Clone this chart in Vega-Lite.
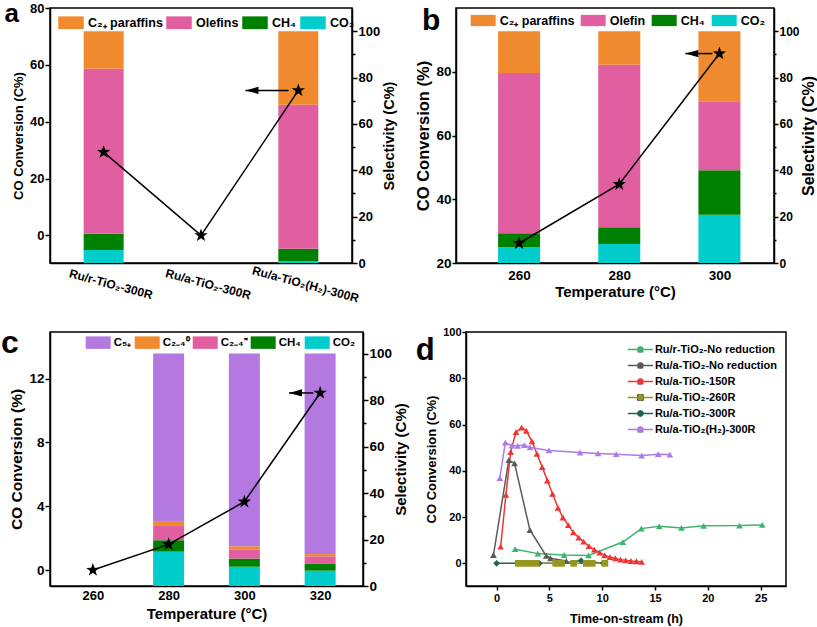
{
  "$schema": "https://vega.github.io/schema/vega-lite/v6.json",
  "background": "white",
  "padding": {"left": 0, "top": 0, "right": 0, "bottom": 0},
  "config": {
    "font": "Liberation Sans",
    "view": {"stroke": "black", "strokeWidth": 1.5},
    "axis": {"grid": false, "domainColor": "black", "domainWidth": 1.5, "tickColor": "black", "tickWidth": 1.5, "labelColor": "black", "titleColor": "black", "labelFontWeight": "bold", "titleFontWeight": "bold", "labelFont": "Liberation Sans", "titleFont": "Liberation Sans", "labelOverlap": false},
    "legend": {"labelFont": "Liberation Sans", "labelFontWeight": "bold", "labelColor": "black", "padding": 0},
    "title": {"font": "Liberation Sans", "fontWeight": "bold", "color": "black", "anchor": "start", "frame": "bounds"}
  },
  "datasets": {
    "aBars": [
      {"i": 0, "sample": "Ru/r-TiO₂-300R", "product": "CO₂", "k": 1, "sel": 5.6},
      {"i": 0, "sample": "Ru/r-TiO₂-300R", "product": "CH₄", "k": 2, "sel": 7.0},
      {"i": 0, "sample": "Ru/r-TiO₂-300R", "product": "Olefins", "k": 3, "sel": 71.2},
      {"i": 0, "sample": "Ru/r-TiO₂-300R", "product": "C₂₊ paraffins", "k": 4, "sel": 16.2},
      {"i": 2, "sample": "Ru/a-TiO₂(H₂)-300R", "product": "CO₂", "k": 1, "sel": 0.9},
      {"i": 2, "sample": "Ru/a-TiO₂(H₂)-300R", "product": "CH₄", "k": 2, "sel": 5.3},
      {"i": 2, "sample": "Ru/a-TiO₂(H₂)-300R", "product": "Olefins", "k": 3, "sel": 62.1},
      {"i": 2, "sample": "Ru/a-TiO₂(H₂)-300R", "product": "C₂₊ paraffins", "k": 4, "sel": 31.7}
    ],
    "aConv": [
      {"i": 0, "sample": "Ru/r-TiO₂-300R", "conv": 29.3},
      {"i": 1, "sample": "Ru/a-TiO₂-300R", "conv": 0.0},
      {"i": 2, "sample": "Ru/a-TiO₂(H₂)-300R", "conv": 51.0}
    ],
    "aArrow": [{"from": 1.9, "to": 1.457, "conv": 51.0}],
    "bBars": [
      {"T": 260, "product": "CO₂", "k": 1, "sel": 6.8},
      {"T": 260, "product": "CH₄", "k": 2, "sel": 6.0},
      {"T": 260, "product": "Olefin", "k": 3, "sel": 69.2},
      {"T": 260, "product": "C₂₊ paraffins", "k": 4, "sel": 18.0},
      {"T": 280, "product": "CO₂", "k": 1, "sel": 8.2},
      {"T": 280, "product": "CH₄", "k": 2, "sel": 7.2},
      {"T": 280, "product": "Olefin", "k": 3, "sel": 70.1},
      {"T": 280, "product": "C₂₊ paraffins", "k": 4, "sel": 14.5},
      {"T": 300, "product": "CO₂", "k": 1, "sel": 20.8},
      {"T": 300, "product": "CH₄", "k": 2, "sel": 19.2},
      {"T": 300, "product": "Olefin", "k": 3, "sel": 29.8},
      {"T": 300, "product": "C₂₊ paraffins", "k": 4, "sel": 30.2}
    ],
    "bConv": [
      {"T": 260, "conv": 26.2},
      {"T": 280, "conv": 44.7},
      {"T": 300, "conv": 85.7}
    ],
    "bArrow": [{"from": 298.6, "to": 293.2, "conv": 85.7}],
    "cBars": [
      {"T": 280, "product": "CO₂", "k": 1, "sel": 14.8},
      {"T": 280, "product": "CH₄", "k": 2, "sel": 4.9},
      {"T": 280, "product": "C₂₋₄⁼", "k": 3, "sel": 6.1},
      {"T": 280, "product": "C₂₋₄⁰", "k": 4, "sel": 1.9},
      {"T": 280, "product": "C₅₊", "k": 5, "sel": 72.3},
      {"T": 300, "product": "CO₂", "k": 1, "sel": 8.3},
      {"T": 300, "product": "CH₄", "k": 2, "sel": 3.5},
      {"T": 300, "product": "C₂₋₄⁼", "k": 3, "sel": 4.0},
      {"T": 300, "product": "C₂₋₄⁰", "k": 4, "sel": 1.3},
      {"T": 300, "product": "C₅₊", "k": 5, "sel": 82.9},
      {"T": 320, "product": "CO₂", "k": 1, "sel": 6.6},
      {"T": 320, "product": "CH₄", "k": 2, "sel": 2.9},
      {"T": 320, "product": "C₂₋₄⁼", "k": 3, "sel": 3.3},
      {"T": 320, "product": "C₂₋₄⁰", "k": 4, "sel": 1.0},
      {"T": 320, "product": "C₅₊", "k": 5, "sel": 86.2}
    ],
    "cConv": [
      {"T": 260, "conv": 0.0},
      {"T": 280, "conv": 1.61},
      {"T": 300, "conv": 4.28},
      {"T": 320, "conv": 11.1}
    ],
    "cArrow": [{"from": 318.2, "to": 311.8, "conv": 11.1}],
    "dData": [
      {"sample": "Ru/r-TiO₂-No reduction", "t": 1.75, "conv": 6.1},
      {"sample": "Ru/r-TiO₂-No reduction", "t": 3.9, "conv": 4.2},
      {"sample": "Ru/r-TiO₂-No reduction", "t": 6.4, "conv": 3.6},
      {"sample": "Ru/r-TiO₂-No reduction", "t": 8.7, "conv": 3.4},
      {"sample": "Ru/r-TiO₂-No reduction", "t": 11.95, "conv": 9.2},
      {"sample": "Ru/r-TiO₂-No reduction", "t": 13.7, "conv": 15.0},
      {"sample": "Ru/r-TiO₂-No reduction", "t": 15.4, "conv": 16.0},
      {"sample": "Ru/r-TiO₂-No reduction", "t": 17.5, "conv": 15.3},
      {"sample": "Ru/r-TiO₂-No reduction", "t": 19.6, "conv": 16.2},
      {"sample": "Ru/r-TiO₂-No reduction", "t": 23.0, "conv": 16.3},
      {"sample": "Ru/r-TiO₂-No reduction", "t": 25.15, "conv": 16.6},
      {"sample": "Ru/a-TiO₂-No reduction", "t": -0.3, "conv": 3.6},
      {"sample": "Ru/a-TiO₂-No reduction", "t": 1.15, "conv": 44.6},
      {"sample": "Ru/a-TiO₂-No reduction", "t": 1.7, "conv": 43.2},
      {"sample": "Ru/a-TiO₂-No reduction", "t": 3.15, "conv": 14.4},
      {"sample": "Ru/a-TiO₂-No reduction", "t": 4.7, "conv": 3.2},
      {"sample": "Ru/a-TiO₂-No reduction", "t": 5.1, "conv": 2.2},
      {"sample": "Ru/a-TiO₂-No reduction", "t": 6.6, "conv": 1.0},
      {"sample": "Ru/a-TiO₂-150R", "t": 0.38, "conv": 7.2},
      {"sample": "Ru/a-TiO₂-150R", "t": 0.88, "conv": 29.6},
      {"sample": "Ru/a-TiO₂-150R", "t": 1.33, "conv": 48.1},
      {"sample": "Ru/a-TiO₂-150R", "t": 1.83, "conv": 56.7},
      {"sample": "Ru/a-TiO₂-150R", "t": 2.37, "conv": 58.7},
      {"sample": "Ru/a-TiO₂-150R", "t": 2.81, "conv": 57.3},
      {"sample": "Ru/a-TiO₂-150R", "t": 3.35, "conv": 52.7},
      {"sample": "Ru/a-TiO₂-150R", "t": 3.82, "conv": 47.3},
      {"sample": "Ru/a-TiO₂-150R", "t": 4.32, "conv": 41.6},
      {"sample": "Ru/a-TiO₂-150R", "t": 4.8, "conv": 35.8},
      {"sample": "Ru/a-TiO₂-150R", "t": 5.3, "conv": 30.0},
      {"sample": "Ru/a-TiO₂-150R", "t": 5.81, "conv": 24.0},
      {"sample": "Ru/a-TiO₂-150R", "t": 6.28, "conv": 19.8},
      {"sample": "Ru/a-TiO₂-150R", "t": 6.79, "conv": 16.5},
      {"sample": "Ru/a-TiO₂-150R", "t": 7.26, "conv": 13.4},
      {"sample": "Ru/a-TiO₂-150R", "t": 7.77, "conv": 11.1},
      {"sample": "Ru/a-TiO₂-150R", "t": 8.24, "conv": 9.4},
      {"sample": "Ru/a-TiO₂-150R", "t": 8.74, "conv": 7.4},
      {"sample": "Ru/a-TiO₂-150R", "t": 9.25, "conv": 5.9},
      {"sample": "Ru/a-TiO₂-150R", "t": 9.75, "conv": 4.6},
      {"sample": "Ru/a-TiO₂-150R", "t": 10.23, "conv": 3.5},
      {"sample": "Ru/a-TiO₂-150R", "t": 10.73, "conv": 2.7},
      {"sample": "Ru/a-TiO₂-150R", "t": 11.24, "conv": 2.2},
      {"sample": "Ru/a-TiO₂-150R", "t": 11.74, "conv": 1.6},
      {"sample": "Ru/a-TiO₂-150R", "t": 12.22, "conv": 1.3},
      {"sample": "Ru/a-TiO₂-150R", "t": 12.72, "conv": 1.0},
      {"sample": "Ru/a-TiO₂-150R", "t": 13.23, "conv": 0.9},
      {"sample": "Ru/a-TiO₂-150R", "t": 13.73, "conv": 0.6},
      {"sample": "Ru/a-TiO₂-300R", "t": 0.0, "conv": 0.0},
      {"sample": "Ru/a-TiO₂-300R", "t": 2.0, "conv": 0.0},
      {"sample": "Ru/a-TiO₂-300R", "t": 4.05, "conv": 0.0},
      {"sample": "Ru/a-TiO₂-300R", "t": 6.05, "conv": 0.0},
      {"sample": "Ru/a-TiO₂-300R", "t": 8.0, "conv": 1.1},
      {"sample": "Ru/a-TiO₂-300R", "t": 10.1, "conv": 0.0},
      {"sample": "Ru/a-TiO₂-260R", "t": 2.05, "conv": 0.0},
      {"sample": "Ru/a-TiO₂-260R", "t": 2.6, "conv": 0.0},
      {"sample": "Ru/a-TiO₂-260R", "t": 3.15, "conv": 0.0},
      {"sample": "Ru/a-TiO₂-260R", "t": 3.75, "conv": 0.0},
      {"sample": "Ru/a-TiO₂-260R", "t": 5.6, "conv": 0.0},
      {"sample": "Ru/a-TiO₂-260R", "t": 6.15, "conv": 0.0},
      {"sample": "Ru/a-TiO₂-260R", "t": 7.3, "conv": 0.0},
      {"sample": "Ru/a-TiO₂-260R", "t": 8.5, "conv": 0.0},
      {"sample": "Ru/a-TiO₂-260R", "t": 9.05, "conv": 0.0},
      {"sample": "Ru/a-TiO₂-260R", "t": 10.25, "conv": 0.0},
      {"sample": "Ru/a-TiO₂(H₂)-300R", "t": 0.3, "conv": 36.8},
      {"sample": "Ru/a-TiO₂(H₂)-300R", "t": 0.82, "conv": 52.2},
      {"sample": "Ru/a-TiO₂(H₂)-300R", "t": 1.45, "conv": 50.9},
      {"sample": "Ru/a-TiO₂(H₂)-300R", "t": 2.0, "conv": 50.8},
      {"sample": "Ru/a-TiO₂(H₂)-300R", "t": 2.62, "conv": 51.1},
      {"sample": "Ru/a-TiO₂(H₂)-300R", "t": 3.16, "conv": 50.1},
      {"sample": "Ru/a-TiO₂(H₂)-300R", "t": 4.96, "conv": 48.8},
      {"sample": "Ru/a-TiO₂(H₂)-300R", "t": 7.9, "conv": 47.9},
      {"sample": "Ru/a-TiO₂(H₂)-300R", "t": 9.6, "conv": 47.5},
      {"sample": "Ru/a-TiO₂(H₂)-300R", "t": 11.33, "conv": 47.2},
      {"sample": "Ru/a-TiO₂(H₂)-300R", "t": 13.73, "conv": 46.6},
      {"sample": "Ru/a-TiO₂(H₂)-300R", "t": 15.3, "conv": 47.2},
      {"sample": "Ru/a-TiO₂(H₂)-300R", "t": 16.4, "conv": 47.0}
    ]
  },
  "resolve": {"scale": {"color": "independent", "fill": "independent", "shape": "independent"}, "legend": {"color": "independent", "fill": "independent", "shape": "independent"}},
  "spacing": 20,
  "vconcat": [
    {
      "spacing": 18,
      "resolve": {"scale": {"color": "independent"}, "legend": {"color": "independent"}},
      "hconcat": [
        {
          "width": 302, "height": 255,
          "title": {"text": "a", "fontSize": 26, "offset": -46, "dx": -8, "baseline": "alphabetic"},
          "layer": [
            {
              "data": {"name": "aBars"},
              "mark": {"type": "bar", "size": 40},
              "encoding": {
                "x": {"field": "i", "type": "quantitative", "scale": {"domain": [-0.5, 2.5], "nice": false, "zero": false},
                  "axis": {"values": [0, 1, 2], "labelExpr": "['Ru/r-TiO₂-300R','Ru/a-TiO₂-300R','Ru/a-TiO₂(H₂)-300R'][datum.value]", "ticks": false, "title": null, "labelAngle": 15, "labelAlign": "center", "labelBaseline": "top", "labelFontSize": 12, "labelPadding": 16, "labelOffset": 8, "labelBound": false}},
                "y": {"field": "sel", "type": "quantitative", "stack": "zero", "scale": {"domain": [0, 110], "nice": false},
                  "axis": {"orient": "right", "values": [0, 10, 20, 30, 40, 50, 60, 70, 80, 90, 100], "labelExpr": "datum.value % 20 === 0 ? datum.label : ''", "tickSize": {"condition": {"test": "datum.value % 20 === 0", "value": 5}, "value": 3}, "title": "Selectivity (C%)", "titleAngle": -90, "titleBaseline": "top", "titleFontSize": 14.5, "labelFontSize": 13, "labelPadding": 1, "titlePadding": 3}},
                "color": {"field": "product", "type": "nominal",
                  "scale": {"domain": ["C₂₊ paraffins", "Olefins", "CH₄", "CO₂"], "range": ["#F08A2E", "#E15FA0", "#008000", "#00CCCC"]},
                  "legend": {"orient": "none", "legendX": 8, "legendY": 1.5, "direction": "horizontal", "title": null, "symbolType": "M-1,-0.5H1V0.5H-1Z", "symbolSize": 650, "symbolStrokeWidth": 0, "symbolOpacity": 1, "labelFontSize": 12.5, "labelOffset": 4, "columnPadding": 3}},
                "order": {"field": "k", "type": "quantitative"}
              }
            },
            {
              "layer": [
                {
                  "data": {"name": "aConv"},
                  "mark": {"type": "line", "color": "black", "strokeWidth": 1.5},
                  "encoding": {
                    "x": {"field": "i", "type": "quantitative", "scale": {"domain": [-0.5, 2.5], "nice": false, "zero": false}},
                    "y": {"field": "conv", "type": "quantitative", "scale": {"domain": [-9.7, 80], "nice": false, "zero": false},
                      "axis": {"orient": "left", "values": [0, 10, 20, 30, 40, 50, 60, 70, 80], "labelExpr": "datum.value % 20 === 0 ? datum.label : ''", "tickSize": {"condition": {"test": "datum.value % 20 === 0", "value": 5}, "value": 3}, "title": "CO Conversion (C%)", "titleFontSize": 13, "labelFontSize": 13, "labelPadding": 1}}
                  }
                },
                {
                  "data": {"name": "aConv"},
                  "mark": {"type": "point", "shape": "M0,-1L0.235,-0.324L0.951,-0.309L0.38,0.124L0.588,0.809L0,0.4L-0.588,0.809L-0.38,0.124L-0.951,-0.309L-0.235,-0.324Z", "filled": true, "color": "black", "size": 196, "opacity": 1},
                  "encoding": {
                    "x": {"field": "i", "type": "quantitative", "scale": {"domain": [-0.5, 2.5], "nice": false, "zero": false}},
                    "y": {"field": "conv", "type": "quantitative", "scale": {"domain": [-9.7, 80], "nice": false, "zero": false}}
                  }
                },
                {
                  "data": {"name": "aArrow"},
                  "mark": {"type": "rule", "color": "black", "strokeWidth": 1.5},
                  "encoding": {
                    "x": {"field": "from", "type": "quantitative", "scale": {"domain": [-0.5, 2.5], "nice": false, "zero": false}},
                    "x2": {"field": "to"},
                    "y": {"field": "conv", "type": "quantitative", "scale": {"domain": [-9.7, 80], "nice": false, "zero": false}}
                  }
                },
                {
                  "data": {"name": "aArrow"},
                  "mark": {"type": "point", "shape": "M0,0L2,-0.55L2,0.55Z", "filled": true, "color": "black", "size": 169, "opacity": 1},
                  "encoding": {
                    "x": {"field": "to", "type": "quantitative", "scale": {"domain": [-0.5, 2.5], "nice": false, "zero": false}},
                    "y": {"field": "conv", "type": "quantitative", "scale": {"domain": [-9.7, 80], "nice": false, "zero": false}}
                  }
                }
              ]
            }
          ],
          "resolve": {"scale": {"y": "independent"}}
        },
        {
          "width": 318, "height": 255,
          "title": {"text": "b", "fontSize": 30, "offset": -52, "dx": 6, "baseline": "alphabetic"},
          "layer": [
            {
              "data": {"name": "bBars"},
              "mark": {"type": "bar", "size": 42},
              "encoding": {
                "x": {"field": "T", "type": "quantitative", "scale": {"domain": [248.4, 309.9], "nice": false, "zero": false},
                  "axis": {"values": [260, 280, 300], "ticks": false, "title": "Temperature (°C)", "titleFontSize": 15, "labelFontSize": 13.5, "labelPadding": 5, "titlePadding": 3}},
                "y": {"field": "sel", "type": "quantitative", "stack": "zero", "scale": {"domain": [0, 110], "nice": false},
                  "axis": {"orient": "right", "values": [0, 10, 20, 30, 40, 50, 60, 70, 80, 90, 100], "labelExpr": "datum.value % 20 === 0 ? datum.label : ''", "tickSize": {"condition": {"test": "datum.value % 20 === 0", "value": 4}, "value": 2}, "title": "Selectivity (C%)", "titleAngle": -90, "titleBaseline": "top", "titleFontSize": 16, "labelFontSize": 12, "labelPadding": 1, "titlePadding": 1}},
                "color": {"field": "product", "type": "nominal",
                  "scale": {"domain": ["C₂₊ paraffins", "Olefin", "CH₄", "CO₂"], "range": ["#F08A2E", "#E15FA0", "#008000", "#00CCCC"]},
                  "legend": {"orient": "none", "legendX": 14.7, "legendY": 0, "direction": "horizontal", "title": null, "symbolType": "M-1,-0.45H1V0.45H-1Z", "symbolSize": 625, "symbolStrokeWidth": 0, "symbolOpacity": 1, "labelFontSize": 12.5, "labelOffset": 4, "columnPadding": 6}},
                "order": {"field": "k", "type": "quantitative"}
              }
            },
            {
              "layer": [
                {
                  "data": {"name": "bConv"},
                  "mark": {"type": "line", "color": "black", "strokeWidth": 1.5},
                  "encoding": {
                    "x": {"field": "T", "type": "quantitative", "scale": {"domain": [248.4, 309.9], "nice": false, "zero": false}},
                    "y": {"field": "conv", "type": "quantitative", "scale": {"domain": [20, 100], "nice": false, "zero": false},
                      "axis": {"orient": "left", "values": [20, 30, 40, 50, 60, 70, 80, 90], "labelExpr": "datum.value % 20 === 0 ? datum.label : ''", "tickSize": {"condition": {"test": "datum.value % 20 === 0", "value": 4}, "value": 2}, "title": "CO Conversion (%)", "titleFontSize": 16.5, "labelFontSize": 13.5, "labelPadding": 1}}
                  }
                },
                {
                  "data": {"name": "bConv"},
                  "mark": {"type": "point", "shape": "M0,-1L0.235,-0.324L0.951,-0.309L0.38,0.124L0.588,0.809L0,0.4L-0.588,0.809L-0.38,0.124L-0.951,-0.309L-0.235,-0.324Z", "filled": true, "color": "black", "size": 196, "opacity": 1},
                  "encoding": {
                    "x": {"field": "T", "type": "quantitative", "scale": {"domain": [248.4, 309.9], "nice": false, "zero": false}},
                    "y": {"field": "conv", "type": "quantitative", "scale": {"domain": [20, 100], "nice": false, "zero": false}}
                  }
                },
                {
                  "data": {"name": "bArrow"},
                  "mark": {"type": "rule", "color": "black", "strokeWidth": 1.5},
                  "encoding": {
                    "x": {"field": "from", "type": "quantitative", "scale": {"domain": [248.4, 309.9], "nice": false, "zero": false}},
                    "x2": {"field": "to"},
                    "y": {"field": "conv", "type": "quantitative", "scale": {"domain": [20, 100], "nice": false, "zero": false}}
                  }
                },
                {
                  "data": {"name": "bArrow"},
                  "mark": {"type": "point", "shape": "M0,0L2,-0.55L2,0.55Z", "filled": true, "color": "black", "size": 169, "opacity": 1},
                  "encoding": {
                    "x": {"field": "to", "type": "quantitative", "scale": {"domain": [248.4, 309.9], "nice": false, "zero": false}},
                    "y": {"field": "conv", "type": "quantitative", "scale": {"domain": [20, 100], "nice": false, "zero": false}}
                  }
                }
              ]
            }
          ],
          "resolve": {"scale": {"y": "independent"}}
        }
      ]
    },
    {
      "spacing": 4,
      "resolve": {"scale": {"color": "independent", "fill": "independent", "shape": "independent"}, "legend": {"color": "independent", "fill": "independent", "shape": "independent"}},
      "hconcat": [
        {
          "width": 313, "height": 254,
          "title": {"text": "c", "fontSize": 32, "offset": -55, "dx": -9, "baseline": "alphabetic"},
          "layer": [
            {
              "data": {"name": "cBars"},
              "mark": {"type": "bar", "size": 31},
              "encoding": {
                "x": {"field": "T", "type": "quantitative", "scale": {"domain": [250, 330], "nice": false, "zero": false},
                  "axis": {"values": [260, 280, 300, 320], "ticks": false, "title": "Temperature (°C)", "titleFontSize": 15, "labelFontSize": 13, "labelPadding": 3, "titlePadding": 4}},
                "y": {"field": "sel", "type": "quantitative", "stack": "zero", "scale": {"domain": [0, 109.3], "nice": false},
                  "axis": {"orient": "right", "values": [0, 10, 20, 30, 40, 50, 60, 70, 80, 90, 100], "labelExpr": "datum.value % 20 === 0 ? datum.label : ''", "tickSize": {"condition": {"test": "datum.value % 20 === 0", "value": 5}, "value": 3}, "title": "Selectivity (C%)", "titleAngle": -90, "titleBaseline": "top", "titleFontSize": 15, "labelFontSize": 13.5, "labelPadding": 1, "titlePadding": 2}},
                "color": {"field": "product", "type": "nominal",
                  "scale": {"domain": ["C₅₊", "C₂₋₄⁰", "C₂₋₄⁼", "CH₄", "CO₂"], "range": ["#B478E1", "#F08A2E", "#E15FA0", "#008000", "#00CCCC"]},
                  "legend": {"orient": "none", "legendX": 35.7, "legendY": -2, "direction": "horizontal", "title": null, "symbolType": "M-1,-0.5H1V0.5H-1Z", "symbolSize": 625, "symbolStrokeWidth": 0, "symbolOpacity": 1, "labelFontSize": 11.5, "labelOffset": 3, "columnPadding": 3}},
                "order": {"field": "k", "type": "quantitative"}
              }
            },
            {
              "layer": [
                {
                  "data": {"name": "cConv"},
                  "mark": {"type": "line", "color": "black", "strokeWidth": 1.5},
                  "encoding": {
                    "x": {"field": "T", "type": "quantitative", "scale": {"domain": [250, 330], "nice": false, "zero": false}},
                    "y": {"field": "conv", "type": "quantitative", "scale": {"domain": [-1, 14.92], "nice": false, "zero": false},
                      "axis": {"orient": "left", "values": [0, 1, 2, 3, 4, 5, 6, 7, 8, 9, 10, 11, 12, 13, 14], "labelExpr": "datum.value % 2 === 0 ? datum.label : ''", "tickSize": {"condition": {"test": "datum.value % 2 === 0", "value": 5}, "value": 3}, "title": "CO Conversion (%)", "titleFontSize": 15.5, "labelFontSize": 13.5, "labelPadding": 1}}
                  }
                },
                {
                  "data": {"name": "cConv"},
                  "mark": {"type": "point", "shape": "M0,-1L0.235,-0.324L0.951,-0.309L0.38,0.124L0.588,0.809L0,0.4L-0.588,0.809L-0.38,0.124L-0.951,-0.309L-0.235,-0.324Z", "filled": true, "color": "black", "size": 196, "opacity": 1},
                  "encoding": {
                    "x": {"field": "T", "type": "quantitative", "scale": {"domain": [250, 330], "nice": false, "zero": false}},
                    "y": {"field": "conv", "type": "quantitative", "scale": {"domain": [-1, 14.92], "nice": false, "zero": false}}
                  }
                },
                {
                  "data": {"name": "cArrow"},
                  "mark": {"type": "rule", "color": "black", "strokeWidth": 1.5},
                  "encoding": {
                    "x": {"field": "from", "type": "quantitative", "scale": {"domain": [250, 330], "nice": false, "zero": false}},
                    "x2": {"field": "to"},
                    "y": {"field": "conv", "type": "quantitative", "scale": {"domain": [-1, 14.92], "nice": false, "zero": false}}
                  }
                },
                {
                  "data": {"name": "cArrow"},
                  "mark": {"type": "point", "shape": "M0,0L2,-0.55L2,0.55Z", "filled": true, "color": "black", "size": 169, "opacity": 1},
                  "encoding": {
                    "x": {"field": "to", "type": "quantitative", "scale": {"domain": [250, 330], "nice": false, "zero": false}},
                    "y": {"field": "conv", "type": "quantitative", "scale": {"domain": [-1, 14.92], "nice": false, "zero": false}}
                  }
                }
              ]
            }
          ],
          "resolve": {"scale": {"y": "independent"}}
        },
        {
          "width": 320, "height": 254,
          "title": {"text": "d", "fontSize": 31, "offset": -65, "dx": -10, "baseline": "alphabetic"},
          "layer": [
            {
              "data": {"name": "dData"},
              "mark": {"type": "line", "strokeWidth": 1.5},
              "encoding": {
                "x": {"field": "t", "type": "quantitative", "scale": {"domain": [-2.9, 27.4], "nice": false, "zero": false},
                  "axis": {"values": [0, 5, 10, 15, 20, 25], "tickSize": 4, "title": "Time-on-stream (h)", "titleFontSize": 12.5, "labelFontSize": 11, "labelPadding": 2, "titlePadding": 9}},
                "y": {"field": "conv", "type": "quantitative", "scale": {"domain": [-9.8, 100], "nice": false, "zero": false},
                  "axis": {"orient": "left", "values": [0, 10, 20, 30, 40, 50, 60, 70, 80, 90, 100], "labelExpr": "datum.value % 20 === 0 ? datum.label : ''", "tickSize": {"condition": {"test": "datum.value % 20 === 0", "value": 4}, "value": 2}, "title": "CO Conversion (C%)", "titleFontSize": 13, "labelFontSize": 11, "labelPadding": 1, "titlePadding": 4}},
                "color": {"field": "sample", "type": "nominal",
                  "scale": {"domain": ["Ru/r-TiO₂-No reduction", "Ru/a-TiO₂-No reduction", "Ru/a-TiO₂-150R", "Ru/a-TiO₂-260R", "Ru/a-TiO₂-300R", "Ru/a-TiO₂(H₂)-300R"], "range": ["#3CB46E", "#5A5A5A", "#F03434", "#969620", "#1E6450", "#B07AE6"]},
                  "legend": {"orient": "none", "legendX": 168.9, "legendY": 12, "direction": "vertical", "title": null, "symbolType": "M-4.2,0H4.2", "symbolSize": 36, "symbolStrokeWidth": 1.5, "symbolOpacity": 1, "labelFontSize": 11, "labelOffset": 9, "rowPadding": 4}}
              }
            },
            {
              "data": {"name": "dData"},
              "mark": {"type": "point", "filled": true, "size": 45, "opacity": 1},
              "encoding": {
                "x": {"field": "t", "type": "quantitative", "scale": {"domain": [-2.9, 27.4], "nice": false, "zero": false}},
                "y": {"field": "conv", "type": "quantitative", "scale": {"domain": [-9.8, 100], "nice": false, "zero": false}},
                "fill": {"field": "sample", "type": "nominal",
                  "sort": ["Ru/r-TiO₂-No reduction", "Ru/a-TiO₂-No reduction", "Ru/a-TiO₂-150R", "Ru/a-TiO₂-260R", "Ru/a-TiO₂-300R", "Ru/a-TiO₂(H₂)-300R"],
                  "scale": {"range": ["#3CB46E", "#5A5A5A", "#F03434", "#969620", "#1E6450", "#B07AE6"]},
                  "legend": {"orient": "none", "legendX": 168.9, "legendY": 12, "direction": "vertical", "title": null, "symbolSize": 40, "symbolStrokeWidth": 0, "symbolOpacity": 1, "labelFontSize": 11, "labelOffset": 9, "rowPadding": 4, "labelColor": "transparent"}},
                "shape": {"field": "sample", "type": "nominal",
                  "sort": ["Ru/r-TiO₂-No reduction", "Ru/a-TiO₂-No reduction", "Ru/a-TiO₂-150R", "Ru/a-TiO₂-260R", "Ru/a-TiO₂-300R", "Ru/a-TiO₂(H₂)-300R"],
                  "scale": {"range": ["triangle-up", "triangle-up", "triangle-up", "square", "diamond", "triangle-up"]},
                  "legend": {"orient": "none", "legendX": 168.9, "legendY": 12, "direction": "vertical", "title": null, "symbolSize": 40, "symbolStrokeWidth": 0, "symbolOpacity": 1, "labelFontSize": 11, "labelOffset": 9, "rowPadding": 4, "labelColor": "transparent"}}
              }
            }
          ]
        }
      ]
    }
  ]
}
